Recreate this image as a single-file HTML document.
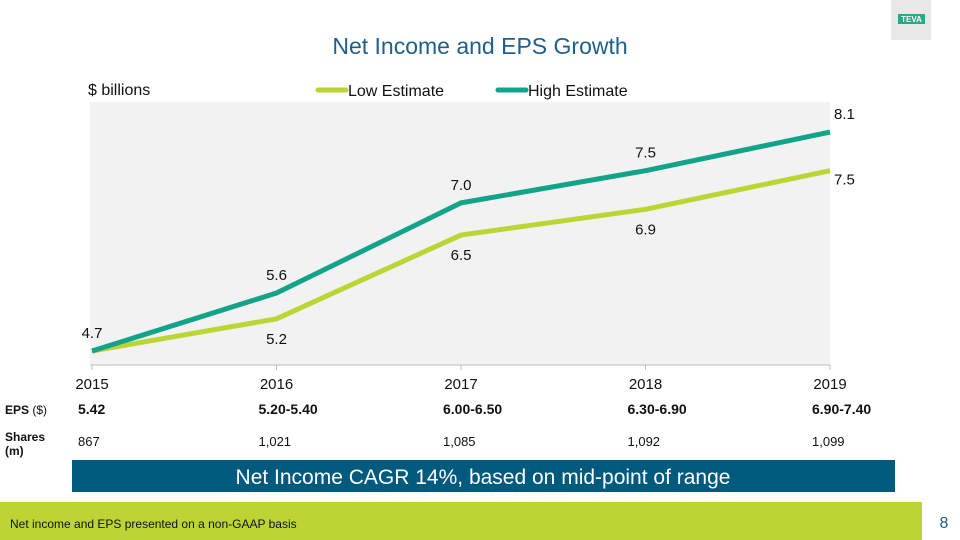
<!DOCTYPE html>
<html><head><meta charset="utf-8"><style>
body{margin:0;width:960px;height:540px;overflow:hidden;background:#fff;font-family:"Liberation Sans","DejaVu Sans",sans-serif;}
svg{position:absolute;left:0;top:0}
</style></head><body>
<svg id="c" width="960" height="540">
<rect x="891" y="0" width="40" height="40" fill="#e8e8e6"/>
<rect x="898" y="14" width="27" height="10" fill="#2aa889"/>
<text x="911.5" y="22" font-size="8" font-weight="bold" fill="#fff" text-anchor="middle">TEVA</text>
<text x="480" y="54" font-size="23" fill="#1f5f8b" text-anchor="middle">Net Income and EPS Growth</text>
<text x="88" y="95" font-size="16" fill="#111">$ billions</text>
<line x1="318" y1="90" x2="346" y2="90" stroke="#bcd534" stroke-width="5" stroke-linecap="round"/>
<text x="348" y="96" font-size="16" fill="#111">Low Estimate</text>
<line x1="498" y1="90" x2="526" y2="90" stroke="#12a38a" stroke-width="5" stroke-linecap="round"/>
<text x="528" y="96" font-size="16" fill="#111">High Estimate</text>
<rect x="90" y="102" width="740" height="263" fill="#f2f2f2"/>
<line x1="90" y1="365" x2="830" y2="365" stroke="#bfbfbf"/>
<g id="ticks"></g><g id="lines"></g><g id="labels"></g>
<text x="5" y="414" font-size="12" font-weight="bold" fill="#111">EPS <tspan font-weight="normal">($)</tspan></text>
<text x="5" y="441" font-size="12" font-weight="bold" fill="#111">Shares</text>
<text x="5" y="455" font-size="12" font-weight="bold" fill="#111">(m)</text>
<g id="table"></g>
<rect x="72" y="460" width="823" height="32" fill="#005a7e"/>
<text x="483" y="484" font-size="21" fill="#fff" text-anchor="middle">Net Income CAGR 14%, based on mid-point of range</text>
<rect x="0" y="502" width="922" height="38" fill="#bcd534"/>
<text x="10" y="528" font-size="12" fill="#111">Net income and EPS presented on a non-GAAP basis</text>
<text x="944" y="528" font-size="16" fill="#1f5f8b" text-anchor="middle">8</text>
</svg>
<script>
const years=["2015","2016","2017","2018","2019"];
const low=[4.7,5.2,6.5,6.9,7.5];
const high=[4.7,5.6,7.0,7.5,8.1];
const eps=["5.42","5.20-5.40","6.00-6.50","6.30-6.90","6.90-7.40"];
const shares=["867","1,021","1,085","1,092","1,099"];
const NS="http://www.w3.org/2000/svg";
const xs=i=>92+i*184.5;
const ys=v=>351-(v-4.7)*64.4;
function mk(tag,attrs,parent,txt){const e=document.createElementNS(NS,tag);for(const k in attrs)e.setAttribute(k,attrs[k]);if(txt!==undefined)e.textContent=txt;document.getElementById(parent).appendChild(e);return e;}
years.forEach((y,i)=>{
 const t=mk('text',{x:xs(i),y:389,'font-size':15,fill:'#111','text-anchor':'middle'},'ticks',y);
 
 
 const tl=mk('line',{x1:xs(i),y1:365,x2:xs(i),y2:370,stroke:'#bfbfbf'},'ticks');
 
 
 const ex=i==0?78:xs(i)-18;
 const e=mk('text',{x:ex,y:414,'font-size':14,'font-weight':'bold',fill:'#111'},'table',eps[i]);
 
 
 const s=mk('text',{x:ex,y:446,'font-size':13,fill:'#111'},'table',shares[i]);
 
 
});
function line(arr,col,name){
 const p=mk('polyline',{points:arr.map((v,i)=>xs(i)+','+ys(v)).join(' '),fill:'none',stroke:col,'stroke-width':5,'stroke-linejoin':'round'},'lines');
 
 
}
line(low,'#bcd534','low-estimate-line');
line(high,'#12a38a','high-estimate-line');
low.forEach((v,i)=>{
 if(i==0)return;
 const x=i==4?xs(i)+4:xs(i);
 const t=mk('text',{x:x,y:ys(v)+25,'font-size':15,fill:'#111','text-anchor':i==4?'start':'middle'},'labels',v.toFixed(1));
 if(i==4)t.setAttribute('y',ys(v)+14);
 
 
});
high.forEach((v,i)=>{
 const x=i==0?92:i==4?xs(i)+4:xs(i);
 const t=mk('text',{x:x,y:ys(v)-13,'font-size':15,fill:'#111','text-anchor':i==4?'start':'middle'},'labels',v.toFixed(1));
 
 
});
</script>
</body></html>
